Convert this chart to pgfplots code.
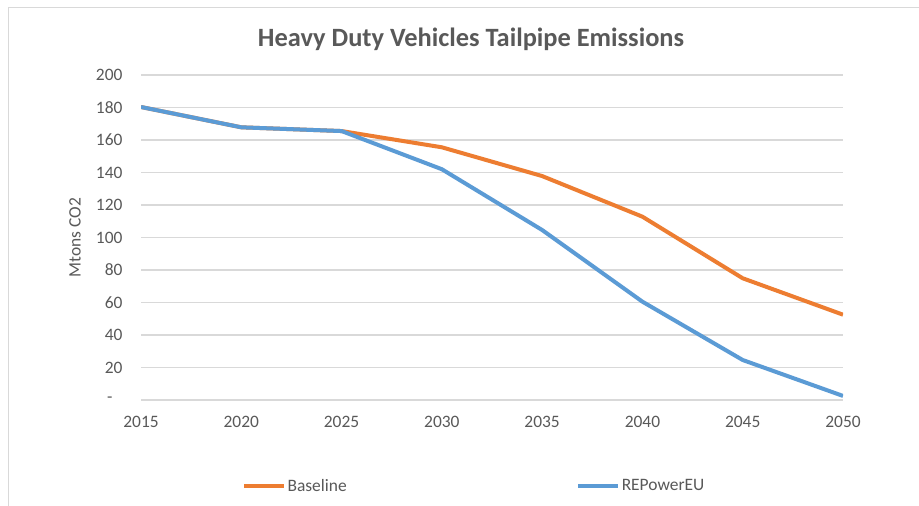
\documentclass[border=0pt]{standalone}
\usepackage{pgfplots}
\pgfplotsset{compat=1.18}
\usepackage{fontspec}
\setmainfont{Carlito}
\definecolor{cOrange}{HTML}{ED7D31}
\definecolor{cBlue}{HTML}{5B9BD5}
\definecolor{cGrid}{HTML}{D9D9D9}
\definecolor{cText}{HTML}{595959}
\begin{document}
\begin{tikzpicture}[x=1bp,y=1bp]
\useasboundingbox[fill=white] (0,0) rectangle (919,506);
\draw[cGrid, line width=1.2bp] (8.5,0) -- (8.5,498.5) -- (919,498.5);
\node[anchor=base, text=cText, font=\fontsize{26.5}{30}\selectfont\bfseries] at (471,459.3) {Heavy Duty Vehicles Tailpipe Emissions};
\begin{axis}[
  at={(141bp,106bp)}, anchor=south west,
  scale only axis, width=702bp, height=325bp,
  xmin=2015, xmax=2050, ymin=0, ymax=200,
  xtick={2015,2020,...,2050},
  ytick={0,20,...,200},
  yticklabels={{-\rule{10bp}{0pt}},20,40,60,80,100,120,140,160,180,200},
  /pgf/number format/assume math mode=true,
  /pgf/number format/1000 sep={},
  ymajorgrids, grid style={cGrid, line width=1.2bp},
  axis line style={draw=none},
  major tick length=0pt,
  tick label style={text=cText, font=\fontsize{17.5}{20}\selectfont},
  yticklabel style={xshift=-15bp},
  xticklabel style={yshift=-13bp},
  ylabel={Mtons CO2},
  ylabel style={text=cText, font=\fontsize{17.5}{20}\selectfont, at={(axis description cs:0,0.5)}, anchor=center, yshift=66bp},
  legend columns=2,
  legend style={draw=none, fill=none, at={(0.1437,-0.2646)}, anchor=west, inner sep=0pt,
    font=\fontsize{17.5}{20}\selectfont, text=cText,
    /tikz/every even column/.append style={column sep=228bp},
    nodes={inner sep=1.5bp}},
  legend image code/.code={\draw[#1, line width=4bp] (0,0) -- (40bp,0);},
  line join=round,
]
\addplot[cOrange, line width=4bp] coordinates {
 (2015,180.3) (2020,167.8) (2025,165.5) (2030,155.5) (2035,137.8) (2040,112.8) (2045,74.9) (2050,52.5)};
\addlegendentry{Baseline}
\addplot[cBlue, line width=4bp] coordinates {
 (2015,180.3) (2020,167.8) (2025,165.5) (2030,142) (2035,104.6) (2040,60.5) (2045,24.6) (2050,2.5)};
\addlegendentry{REPowerEU}
\end{axis}
\end{tikzpicture}
\end{document}
